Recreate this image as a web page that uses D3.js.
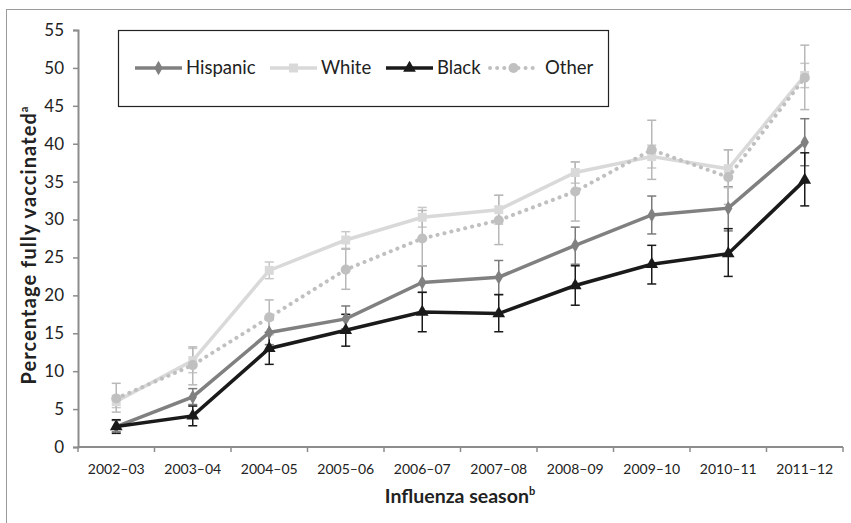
<!DOCTYPE html>
<html>
<head>
<meta charset="utf-8">
<script src="https://cdn.jsdelivr.net/npm/d3@7"></script>
<style>
  body { margin: 0; background: #fff; }
  svg { font-family: Lato, "Open Sans", sans-serif; }
</style>
</head>
<body>
<svg width="851" height="523"></svg>
<script>
const seasons = ['2002–03', '2003–04', '2004–05', '2005–06', '2006–07', '2007–08', '2008–09', '2009–10', '2010–11', '2011–12'];
const yTicks = [0, 5, 10, 15, 20, 25, 30, 35, 40, 45, 50, 55];

const hispanic = [2.7, 6.6, 15.1, 16.9, 21.7, 22.4, 26.6, 30.6, 31.5, 40.2];
const hispanicLo = [2.0, 5.6, 13.5, 15.6, 20.4, 20.1, 24.1, 28.1, 28.5, 37.1];
const hispanicHi = [3.5, 7.7, 16.8, 18.6, 23.9, 24.6, 29.0, 33.1, 34.3, 43.3];

const white = [6.0, 11.4, 23.3, 27.3, 30.3, 31.3, 36.2, 38.3, 36.7, 49.0];
const whiteLo = [5.2, 9.8, 22.2, 26.2, 29.0, 29.4, 34.8, 36.8, 34.2, 47.4];
const whiteHi = [6.8, 13.0, 24.4, 28.4, 31.6, 33.2, 37.6, 39.8, 39.2, 50.6];

const black = [2.7, 4.1, 13.0, 15.4, 17.8, 17.6, 21.3, 24.1, 25.5, 35.2];
const blackLo = [1.8, 2.8, 10.9, 13.3, 15.2, 15.2, 18.7, 21.5, 22.5, 31.8];
const blackHi = [3.6, 5.4, 15.1, 17.5, 20.4, 20.1, 23.9, 26.6, 28.8, 38.8];

const other = [6.4, 10.8, 17.1, 23.4, 27.5, 29.9, 33.7, 39.2, 35.6, 48.7];
const otherLo = [4.6, 8.2, 14.8, 20.8, 23.9, 26.7, 29.8, 35.3, 32.0, 44.5];
const otherHi = [8.4, 13.2, 19.4, 26.1, 31.2, 33.2, 37.6, 43.1, 39.2, 53.0];

const series = [
  { name: 'Hispanic', vals: hispanic, lo: hispanicLo, hi: hispanicHi, color: '#808080', bar: '#7a7a7a', symbol: d3.symbolDiamond, size: 60, dash: null },
  { name: 'White', vals: white, lo: whiteLo, hi: whiteHi, color: '#d9d9d9', bar: '#c8c8c8', symbol: d3.symbolSquare, size: 80, dash: null },
  { name: 'Black', vals: black, lo: blackLo, hi: blackHi, color: '#1a1a1a', bar: '#1a1a1a', symbol: d3.symbolTriangle, size: 70, dash: null },
  { name: 'Other', vals: other, lo: otherLo, hi: otherHi, color: '#c0c0c0', bar: '#b8b8b8', symbol: d3.symbolCircle, size: 80, dash: '0.1 7' }
];

const svg = d3.select('svg');
const margin = { left: 78, right: 8, top: 30, bottom: 76 };

// outer frame (only top and left edges show)
svg.append('rect').attr('x', 6.5).attr('y', 9.5).attr('width', 900).attr('height', 600)
  .attr('fill', 'none').attr('stroke', '#9a9a9a').attr('stroke-width', 1);

const x = d3.scaleBand().domain(seasons).range([margin.left, 843]);
const y = d3.scaleLinear().domain([0, 55]).range([447, margin.top]);

// y axis
const yAxis = svg.append('g').attr('transform', `translate(${margin.left},0)`)
  .call(d3.axisLeft(y).tickValues(yTicks).tickSize(5).tickPadding(9));
yAxis.select('.domain').attr('stroke', '#8c8c8c').attr('stroke-width', 2);
yAxis.selectAll('.tick line').attr('stroke', '#8c8c8c').attr('stroke-width', 1.5);
yAxis.selectAll('.tick text').attr('font-size', 17).attr('fill', '#222').attr('font-family', 'Lato');

// x axis with ticks at category edges
const xg = svg.append('g').attr('transform', 'translate(0,447)');
xg.append('line').attr('x1', margin.left).attr('x2', 843).attr('stroke', '#8c8c8c').attr('stroke-width', 2);
const edges = seasons.map(s => x(s)).concat([843]);
xg.selectAll('line.tk').data(edges).enter().append('line').attr('class', 'tk')
  .attr('x1', d => d).attr('x2', d => d).attr('y1', 0).attr('y2', 5)
  .attr('stroke', '#8c8c8c').attr('stroke-width', 1.5);
xg.selectAll('text').data(seasons).enter().append('text')
  .attr('x', d => x(d) + x.bandwidth() / 2).attr('y', 27)
  .attr('text-anchor', 'middle').attr('font-size', 14).attr('fill', '#222')
  .text(d => d);

// axis titles
const xt = svg.append('text').attr('x', 460).attr('y', 503).attr('text-anchor', 'middle')
  .attr('font-size', 19.5).attr('font-weight', 'bold').attr('fill', '#222');
xt.append('tspan').text('Influenza season');
xt.append('tspan').attr('font-size', 11).attr('dy', -8).text('b');

const yt = svg.append('text').attr('transform', 'translate(36,245) rotate(-90)').attr('text-anchor', 'middle')
  .attr('font-size', 20).attr('font-weight', 'bold').attr('fill', '#222')
  .attr('letter-spacing', 1.1);
yt.append('tspan').text('Percentage fully vaccinated');
yt.append('tspan').attr('font-size', 11).attr('dy', -8).text('a');

const cx = i => x(seasons[i]) + x.bandwidth() / 2;

// error bars
series.forEach(s => {
  const g = svg.append('g');
  s.vals.forEach((v, i) => {
    g.append('line').attr('x1', cx(i)).attr('x2', cx(i)).attr('y1', y(s.lo[i])).attr('y2', y(s.hi[i]))
      .attr('stroke', s.bar).attr('stroke-width', 1.5);
    [s.lo[i], s.hi[i]].forEach(e => {
      g.append('line').attr('x1', cx(i) - 4.5).attr('x2', cx(i) + 4.5).attr('y1', y(e)).attr('y2', y(e))
        .attr('stroke', s.bar).attr('stroke-width', 1.5);
    });
  });
});

// lines and markers
series.forEach(s => {
  const line = d3.line().x((d, i) => cx(i)).y(d => y(d));
  svg.append('path').datum(s.vals).attr('d', line).attr('fill', 'none')
    .attr('stroke', s.color).attr('stroke-width', s.dash ? 4 : 3.5)
    .attr('stroke-linecap', s.dash ? 'round' : 'butt')
    .attr('stroke-dasharray', s.dash);
  svg.selectAll(null).data(s.vals).enter().append('path')
    .attr('d', d3.symbol().type(s.symbol).size(s.size))
    .attr('transform', (d, i) => `translate(${cx(i)},${y(d)})`)
    .attr('fill', s.color);
});

// legend
const lg = svg.append('g');
lg.append('rect').attr('x', 118.5).attr('y', 30.5).attr('width', 490).attr('height', 76)
  .attr('fill', '#fff').attr('stroke', '#222').attr('stroke-width', 1.2);
const legendX = [135, 270, 386, 490];
series.forEach((s, i) => {
  const lx = legendX[i];
  lg.append('line').attr('x1', lx).attr('x2', lx + 47).attr('y1', 68).attr('y2', 68)
    .attr('stroke', s.color).attr('stroke-width', s.dash ? 4 : 3.5)
    .attr('stroke-linecap', s.dash ? 'round' : 'butt')
    .attr('stroke-dasharray', s.dash);
  lg.append('path').attr('d', d3.symbol().type(s.symbol).size(s.size))
    .attr('transform', `translate(${lx + 23.5},68)`).attr('fill', s.color);
  lg.append('text').attr('x', lx + (s.dash ? 55 : 51)).attr('y', 74).attr('font-size', 18.5).attr('fill', '#222')
    .text(s.name);
});
</script>
</body>
</html>
